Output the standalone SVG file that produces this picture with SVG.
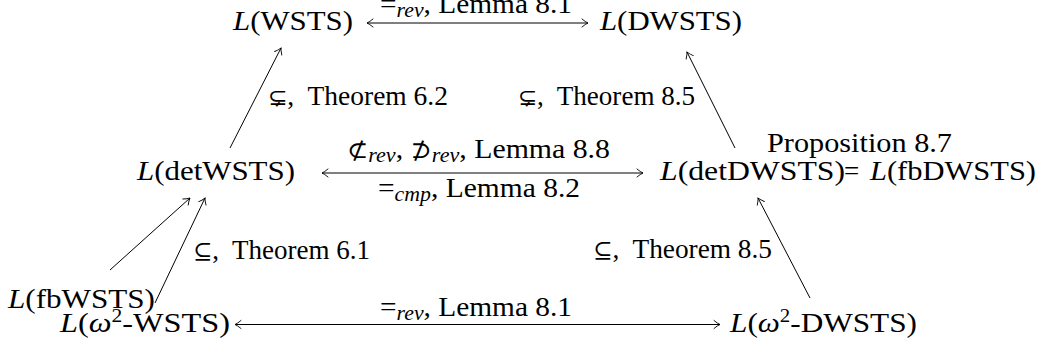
<svg xmlns="http://www.w3.org/2000/svg" width="1041" height="347" viewBox="0 0 1041 347">
<style>
.t{font-family:"Liberation Serif","DejaVu Serif",serif;font-size:27px;fill:#000}
.i{font-style:italic}
.s{font-size:20px;font-style:italic}
.m{font-family:"DejaVu Serif",serif;font-size:23px}
.c line{stroke:#000;stroke-width:1;fill:none}
.d{marker-start:url(#ah);marker-end:url(#ah)}
.u{marker-end:url(#ah)}
</style>
<defs>
<marker id="ah" markerUnits="userSpaceOnUse" markerWidth="10" markerHeight="12" viewBox="-8 -6 10 12" refX="0" refY="0" orient="auto-start-reverse">
<path d="M-6,-4 Q-2.5,-1 0,0 Q-2.5,1 -6,4" fill="none" stroke="#000" stroke-width="0.9" stroke-linecap="round"/>
</marker>
</defs>
<rect width="1041" height="347" fill="#fff"/>
<g id="connectors" class="c">
<line class="d" x1="367" y1="23" x2="588" y2="23"/>
<line class="d" x1="322" y1="173" x2="643" y2="173"/>
<line class="d" x1="235" y1="324.5" x2="720" y2="324.5"/>
<line class="u" x1="230" y1="148" x2="281" y2="48"/>
<line class="u" x1="735" y1="148" x2="687" y2="52"/>
<line class="u" x1="110" y1="270" x2="190" y2="198"/>
<line class="u" x1="155" y1="303" x2="205" y2="198"/>
<line class="u" x1="810" y1="298" x2="758" y2="198"/>
</g>
<g id="labels" class="t">
<text x="380" y="13" textLength="192" lengthAdjust="spacingAndGlyphs">=<tspan class="s" dy="4">rev</tspan><tspan dy="-4">, Lemma 8.1</tspan></text>
<text x="347" y="158" textLength="263" lengthAdjust="spacingAndGlyphs"><tspan class="m">⊄</tspan><tspan class="s" dy="4">rev</tspan><tspan dy="-4">, </tspan><tspan class="m">⊅</tspan><tspan class="s" dy="4">rev</tspan><tspan dy="-4">, Lemma 8.8</tspan></text>
<text x="378" y="197" textLength="202" lengthAdjust="spacingAndGlyphs">=<tspan class="s" dy="4">cmp</tspan><tspan dy="-4">, Lemma 8.2</tspan></text>
<text x="380" y="316" textLength="192" lengthAdjust="spacingAndGlyphs">=<tspan class="s" dy="4">rev</tspan><tspan dy="-4">, Lemma 8.1</tspan></text>
<text x="268" y="105" textLength="180" lengthAdjust="spacingAndGlyphs"><tspan class="m">⊊</tspan>,&#160; Theorem 6.2</text>
<text x="518" y="105" textLength="177" lengthAdjust="spacingAndGlyphs"><tspan class="m">⊊</tspan>,&#160; Theorem 8.5</text>
<text x="193" y="259" textLength="177" lengthAdjust="spacingAndGlyphs"><tspan class="m">⊆</tspan>,&#160; Theorem 6.1</text>
<text x="593" y="258" textLength="179" lengthAdjust="spacingAndGlyphs"><tspan class="m">⊆</tspan>,&#160; Theorem 8.5</text>
<text x="767" y="152" textLength="185" lengthAdjust="spacingAndGlyphs">Proposition 8.7</text>
</g>
<g id="n-wsts" class="t"><text x="233" y="30" textLength="120" lengthAdjust="spacingAndGlyphs"><tspan class="i">L</tspan>(WSTS)</text></g>
<g id="n-dwsts" class="t"><text x="600" y="30" textLength="142" lengthAdjust="spacingAndGlyphs"><tspan class="i">L</tspan>(DWSTS)</text></g>
<g id="n-detwsts" class="t"><text x="137" y="180" textLength="158" lengthAdjust="spacingAndGlyphs"><tspan class="i">L</tspan>(detWSTS)</text></g>
<g id="n-detdwsts" class="t">
<text x="660" y="180" textLength="185" lengthAdjust="spacingAndGlyphs"><tspan class="i">L</tspan>(detDWSTS)</text>
<text x="844" y="180">=</text>
<text x="870" y="180" textLength="166" lengthAdjust="spacingAndGlyphs"><tspan class="i">L</tspan>(fbDWSTS)</text>
</g>
<g id="n-fbwsts" class="t"><text x="8" y="308" textLength="147" lengthAdjust="spacingAndGlyphs"><tspan class="i">L</tspan>(fbWSTS)</text></g>
<g id="n-w2wsts" class="t"><text x="60" y="332" textLength="170" lengthAdjust="spacingAndGlyphs"><tspan class="i">L</tspan>(<tspan class="i">ω</tspan><tspan font-size="18" dy="-10">2</tspan><tspan dy="10">-WSTS)</tspan></text></g>
<g id="n-w2dwsts" class="t"><text x="730" y="332" textLength="187" lengthAdjust="spacingAndGlyphs"><tspan class="i">L</tspan>(<tspan class="i">ω</tspan><tspan font-size="18" dy="-10">2</tspan><tspan dy="10">-DWSTS)</tspan></text></g>
</svg>
